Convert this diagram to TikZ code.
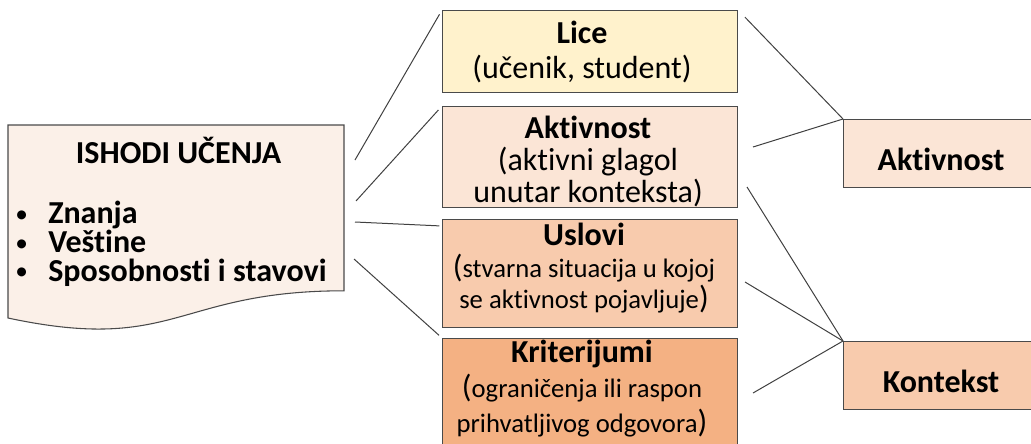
\documentclass[tikz,border=0pt]{standalone}
\usepackage{fontspec}
\setmainfont{Carlito}[Ligatures=NoCommon]
\usetikzlibrary{calc}
\definecolor{cLice}{HTML}{FFF2CC}
\definecolor{cAkt}{HTML}{FBE5D6}
\definecolor{cUsl}{HTML}{F8CBAD}
\definecolor{cKrit}{HTML}{F4B183}
\definecolor{cDoc}{HTML}{FBF0E8}
\definecolor{cBorder}{HTML}{4A4A4A}
\definecolor{cLine}{HTML}{404040}
\newcommand{\bigpar}[1]{{\fontsize{24}{24}\selectfont #1}}
\newcommand{\bul}{\makebox[24.75pt][l]{\fontsize{19}{19}\selectfont\raisebox{1pt}{•}}}
\begin{document}
\begin{tikzpicture}[x=0.75pt,y=-0.75pt,
  box/.style={draw=cBorder, line width=0.8pt, rectangle, inner sep=0pt, anchor=north west},
  midbox/.style={box, minimum width=221.25pt},
  rbox/.style={box, minimum width=147pt, minimum height=51pt},
  txt/.style={align=center, inner sep=0pt},
  link/.style={draw=cLine, line width=0.75pt}]
\clip (0,0) rectangle (1031,443);
% left document shape
\draw[draw=cBorder, line width=0.8pt, fill=cDoc]
  (8,125) -- (344,125) -- (344,290.8)
  .. controls (176,290.8) and (176,353.9) .. (8,318) -- cycle;
\node[inner sep=0pt, anchor=base, font=\fontsize{24}{26}\selectfont\bfseries] (doct) at (178.5,163) {ISHODI UČENJA};
\node[inner sep=0pt, anchor=base west, align=left, font=\fontsize{24}{21.5}\selectfont] (items) at (15,281)
  {\bul\textbf{Znanja}\\\bul\textbf{Veštine}\\\bul\textbf{Sposobnosti i stavovi}};
% middle boxes
\node[midbox, fill=cLice, minimum height=61.5pt] (lice) at (442,10) {};
\node[midbox, fill=cAkt, minimum height=75.75pt] (akt) at (442,106) {};
\node[midbox, fill=cUsl, minimum height=81pt] (usl) at (442,219) {};
\node[midbox, fill=cKrit, minimum height=81pt] (krit) at (442,338) {};
\node[txt, font=\fontsize{24}{26.25}\selectfont] (licet) at (582,51.5) {\textbf{Lice}\\(učenik, student)};
\node[txt, font=\fontsize{24}{24}\selectfont] (aktt) at (588,161) {\textbf{Aktivnost}\\(aktivni glagol\\unutar konteksta)};
\node[txt, font=\fontsize{20}{23.6}\selectfont] (uslt) at (584,268.5) {{\fontsize{24}{24}\selectfont\textbf{Uslovi}}\\\bigpar{(}stvarna situacija u kojoj\\se aktivnost pojavljuje\bigpar{)}};
\node[txt, font=\fontsize{20}{26.25}\selectfont] (kritt) at (582,389) {{\fontsize{24}{24}\selectfont\textbf{Kriterijumi}}\\\bigpar{(}ograničenja ili raspon\\prihvatljivog odgovora\bigpar{)}};
% right boxes
\node[rbox, fill=cAkt] (raktiv) at (843,119) {};
\node[rbox, fill=cUsl] (kont) at (843,341) {};
\node[inner sep=0pt, anchor=base, font=\fontsize{24}{26}\selectfont\bfseries] (raktivt) at (941,170) {Aktivnost};
\node[inner sep=0pt, anchor=base, font=\fontsize{24}{26}\selectfont\bfseries] (kontt) at (941,392) {Kontekst};
% connectors left
\coordinate (a1) at (355,160);
\coordinate (a2) at (356,201);
\coordinate (a3) at (355,222);
\coordinate (a4) at (354,259);
\draw[link, shorten >=3.75pt] (a1) -- (lice.north west);
\draw[link, shorten >=4pt] (a2) -- (akt.north west);
\draw[link, shorten >=2pt] (a3) -- ($(usl.north west)+(0,7)$);
\draw[link, shorten >=3pt] (a4) -- (krit.north west);
% connectors right
\coordinate (b2) at (753,147);
\coordinate (b3) at (747,187);
\coordinate (b4) at (745,282);
\coordinate (b5) at (753,393);
\draw[link, shorten <=7.5pt] (lice.north east) -- (raktiv.north west);
\draw[link] (b2) -- (raktiv.north west);
\draw[link] (b3) -- (kont.north west);
\draw[link] (b4) -- (kont.north west);
\draw[link] (b5) -- (kont.north west);
\end{tikzpicture}
\end{document}
